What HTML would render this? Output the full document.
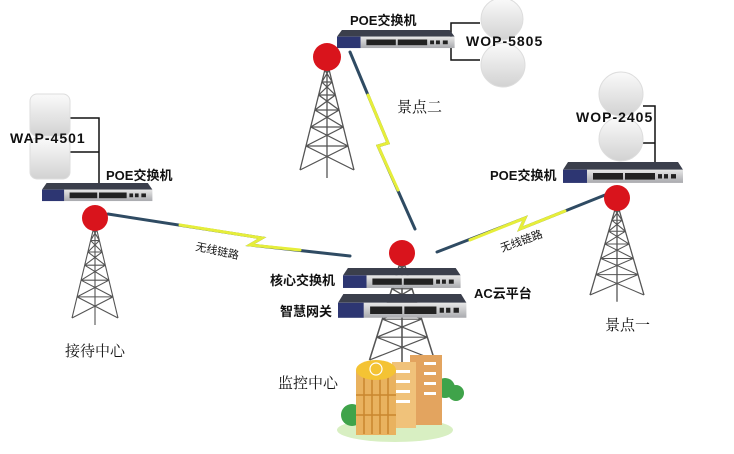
<!DOCTYPE html>
<html><head><meta charset="utf-8"><style>
html,body{margin:0;padding:0;background:#fff;}
svg{display:block}
text{font-family:"Liberation Sans","Noto Sans CJK SC",sans-serif;fill:#111}
.b{font-weight:bold;font-size:13px}
.s{font-family:"Noto Serif CJK SC","Liberation Serif",serif;font-size:15px}
</style></head><body>
<svg width="734" height="454" viewBox="0 0 734 454" xmlns="http://www.w3.org/2000/svg">
<defs>
<symbol id="tw" overflow="visible">
<path d="M-2,0 L-25,100 M2,0 L25,100 M0,0 L0,108 M-2,0 L4.8,12 M2,0 L-4.8,12 M-4.8,12 L7.75,25 M4.8,12 L-7.75,25 M-7.75,25 L11.2,40 M7.75,25 L-11.2,40 M-11.2,40 L15.1,57 M11.2,40 L-15.1,57 M-15.1,57 L19.5,76 M15.1,57 L-19.5,76 M-19.5,76 L25,100 M19.5,76 L-25,100 M-4.8,12 L4.8,12 M-7.75,25 L7.75,25 M-11.2,40 L11.2,40 M-15.1,57 L15.1,57 M-19.5,76 L19.5,76" stroke="#555" stroke-width="1.2" fill="none"/>
</symbol>
<linearGradient id="fr" x1="0" y1="0" x2="0" y2="1"><stop offset="0" stop-color="#e8e8e8"/><stop offset="1" stop-color="#a9aaae"/></linearGradient>
<symbol id="sw" overflow="visible">
<polygon points="5,0 115,0 120,7 0,7" fill="#3b3f4c"/>
<rect x="0" y="7" width="120" height="12" fill="url(#fr)"/>
<rect x="0" y="7" width="24" height="12" fill="#2d3672"/>
<g fill="#222"><rect x="30" y="10" width="30" height="6"/><rect x="62" y="10" width="30" height="6"/><rect x="95" y="11" width="4" height="4"/><rect x="101" y="11" width="4" height="4"/><rect x="108" y="11" width="5" height="4"/></g>
</symbol>
<linearGradient id="ap" x1="0" y1="0" x2="0" y2="1"><stop offset="0" stop-color="#fafafa"/><stop offset="1" stop-color="#d2d2d2"/></linearGradient>
</defs>

<!-- wireless links -->
<g fill="none" stroke-linecap="round">
<path d="M108,214 L262,238 L250,245 L350,256" stroke="#2f4b63" stroke-width="3"/>
<path d="M180,225 L262,238 L250,245 L300,250" stroke="#e6ee3a" stroke-width="3"/>
<path d="M350,52 L388,143 L378,146 L415,229" stroke="#2f4b63" stroke-width="3"/>
<path d="M368,95 L388,143 L378,146 L398,190" stroke="#e6ee3a" stroke-width="3"/>
<path d="M437,252 L525,218 L520,229 L605,195" stroke="#2f4b63" stroke-width="3"/>
<path d="M470,240 L525,218 L520,229 L565,211" stroke="#e6ee3a" stroke-width="3"/>
</g>
<text x="195" y="250" font-size="11" transform="rotate(12 195 250)">无线链路</text>
<text x="502" y="252" font-size="11" transform="rotate(-20 502 252)">无线链路</text>

<!-- towers -->
<use href="#tw" transform="translate(95,230) scale(0.92,0.88)"/>
<use href="#tw" transform="translate(327,70) scale(1.08,1)"/>
<use href="#tw" transform="translate(617,210) scale(1.08,0.85)"/>
<use href="#tw" transform="translate(402,265) scale(1.3,0.95)"/>

<!-- left site -->
<path d="M68,118 H99 V183 M68,152 H99" stroke="#111" stroke-width="1.5" fill="none"/>
<rect x="30" y="94" width="40" height="42" rx="7" fill="url(#ap)" stroke="#ddd"/>
<rect x="30" y="138" width="40" height="41" rx="7" fill="url(#ap)" stroke="#ddd"/>
<text x="10" y="143" class="b" style="font-size:14px;letter-spacing:1px">WAP-4501</text>
<text x="106" y="180" class="b">POE交换机</text>
<use href="#sw" transform="translate(42,183) scale(0.92,0.95)"/>
<circle cx="95" cy="218" r="13" fill="#d9141c"/>
<text x="65" y="356" class="s">接待中心</text>

<!-- top site -->
<path d="M480,23 H451 V60 H480" stroke="#111" stroke-width="1.5" fill="none"/>
<circle cx="502" cy="19" r="21" fill="url(#ap)" stroke="#ddd"/>
<circle cx="503" cy="65" r="22" fill="url(#ap)" stroke="#ddd"/>
<text x="466" y="46" class="b" style="font-size:14px;letter-spacing:1px">WOP-5805</text>
<text x="350" y="25" class="b">POE交换机</text>
<use href="#sw" transform="translate(337,30) scale(0.98,0.95)"/>
<circle cx="327" cy="57" r="14" fill="#d9141c"/>
<text x="397" y="112" class="s">景点二</text>

<!-- right site -->
<path d="M643,106 H655 V162 M643,143 H655" stroke="#111" stroke-width="1.5" fill="none"/>
<circle cx="621" cy="94" r="22" fill="url(#ap)" stroke="#ddd"/>
<circle cx="621" cy="139" r="22" fill="url(#ap)" stroke="#ddd"/>
<text x="576" y="122" class="b" style="font-size:14px;letter-spacing:1px">WOP-2405</text>
<text x="490" y="180" class="b">POE交换机</text>
<use href="#sw" transform="translate(563,162) scale(1,1.1)"/>
<circle cx="617" cy="198" r="13" fill="#d9141c"/>
<text x="605" y="330" class="s">景点一</text>

<!-- center -->
<circle cx="402" cy="253" r="13" fill="#d9141c"/>
<use href="#sw" transform="translate(343,268) scale(0.98,1.05)"/>
<use href="#sw" transform="translate(338,294) scale(1.07,1.25)"/>
<text x="270" y="285" class="b">核心交换机</text>
<text x="280" y="316" class="b">智慧网关</text>
<text x="474" y="298" class="b">AC云平台</text>
<text x="278" y="388" class="s">监控中心</text>

<!-- building -->
<g>
<ellipse cx="395" cy="430" rx="58" ry="12" fill="#d8efc2"/>
<circle cx="352" cy="415" r="11" fill="#3fa34a"/>
<circle cx="445" cy="388" r="10" fill="#3fa34a"/>
<circle cx="456" cy="393" r="8" fill="#3fa34a"/>
<rect x="410" y="355" width="32" height="70" fill="#e3a45f"/>
<rect x="392" y="362" width="24" height="66" fill="#f0c27a"/>
<g fill="#fff"><rect x="396" y="370" width="14" height="3"/><rect x="396" y="380" width="14" height="3"/><rect x="396" y="390" width="14" height="3"/><rect x="396" y="400" width="14" height="3"/><rect x="424" y="362" width="12" height="3"/><rect x="424" y="372" width="12" height="3"/><rect x="424" y="382" width="12" height="3"/><rect x="424" y="392" width="12" height="3"/></g>
<rect x="356" y="370" width="40" height="65" fill="#e9b25f"/>
<g stroke="#c9862f" stroke-width="1.5"><line x1="364" y1="372" x2="364" y2="434"/><line x1="372" y1="372" x2="372" y2="434"/><line x1="380" y1="372" x2="380" y2="434"/><line x1="388" y1="372" x2="388" y2="434"/><line x1="356" y1="395" x2="396" y2="395"/><line x1="356" y1="415" x2="396" y2="415"/></g>
<ellipse cx="376" cy="370" rx="20" ry="10" fill="#f4c334"/>
<circle cx="376" cy="369" r="6" fill="none" stroke="#fff" stroke-width="1.2"/>
</g>
</svg>
</body></html>
